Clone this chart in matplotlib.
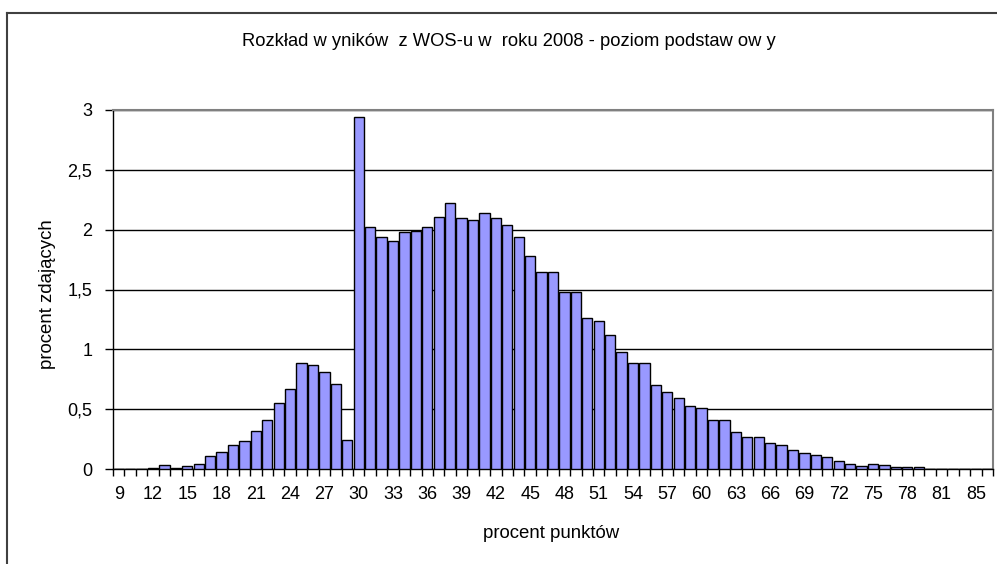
import matplotlib
matplotlib.use("Agg")
import matplotlib.pyplot as plt
from matplotlib.lines import Line2D
import numpy as np

plt.rcParams['font.family'] = ['Liberation Sans', 'DejaVu Sans']

# percent of points (one value missing between 81 and 85)
categories = [str(c) for c in range(9, 83)] + ['84', '85', '86']
values = [0, 0, 0, 0.01, 0.03, 0.01, 0.025, 0.04, 0.11, 0.145,
          0.20, 0.23, 0.32, 0.41, 0.55, 0.67, 0.885, 0.87, 0.81, 0.71,
          0.245, 2.945, 2.02, 1.937, 1.906, 1.98, 1.99, 2.02, 2.11, 2.225,
          2.10, 2.08, 2.14, 2.10, 2.04, 1.94, 1.78, 1.645, 1.645, 1.475,
          1.475, 1.266, 1.24, 1.12, 0.974, 0.885, 0.885, 0.70, 0.64, 0.597,
          0.523, 0.508, 0.406, 0.406, 0.306, 0.264, 0.264, 0.217, 0.203, 0.159,
          0.131, 0.117, 0.103, 0.07, 0.045, 0.028, 0.045, 0.03, 0.014, 0.014,
          0.014, 0, 0, 0, 0, 0, 0]
yticks = [0, 0.5, 1, 1.5, 2, 2.5, 3]
ytick_labels = ['0', '0,5', '1', '1,5', '2', '2,5', '3']

W, H = 997, 564
fig = plt.figure(figsize=(W / 100, H / 100), dpi=100)
ax = fig.add_axes([113 / W, 1 - 469 / H, (993 - 113) / W, (469 - 110) / H])

x = np.arange(len(categories))
ax.bar(x, values, width=0.9, color='#9999FF', edgecolor='black', linewidth=1.0, zorder=3)

ax.set_xlim(-0.5, len(categories) - 0.5)
ax.set_ylim(0, 3)

# tick marks at category borders, labels on every third category
ax.set_xticks(np.arange(len(categories) + 1) - 0.5)
ax.set_xticklabels([])
ax.set_xticks(x[::3], minor=True)
ax.set_xticklabels(categories[::3], minor=True, fontsize=13)
ax.tick_params(axis='x', which='major', length=5, width=1, direction='out')
ax.tick_params(axis='x', which='minor', length=0, pad=12)

ax.set_yticks(yticks)
ax.set_yticklabels(ytick_labels, fontsize=13)
ax.tick_params(axis='y', length=6, width=1, direction='out', pad=9)

ax.grid(axis='y', color='black', linewidth=1, zorder=0)
ax.spines['top'].set_color('#808080')
ax.spines['right'].set_color('#808080')
for s in ['top', 'right']:
    ax.spines[s].set_linewidth(1.5)
ax.spines['left'].set_linewidth(1)
ax.spines['bottom'].set_linewidth(1)

fig.text(509 / W, 1 - 41 / H, 'Rozkład w yników  z WOS-u w  roku 2008 - poziom podstaw ow y',
         ha='center', va='center', fontsize=13.2)
fig.text(551 / W, 1 - 534 / H, 'procent punktów', ha='center', va='center', fontsize=13.4)
fig.text(47 / W, 1 - 294 / H, 'procent zdających', ha='center', va='center',
         rotation=90, fontsize=13.4)

# outer chart frame
fig.add_artist(Line2D([7 / W, 1], [1 - 13 / H, 1 - 13 / H], color='#404040', linewidth=1.5))
fig.add_artist(Line2D([7 / W, 7 / W], [0, 1 - 13 / H], color='#404040', linewidth=1.5))

fig.savefig('out.png', dpi=100)
